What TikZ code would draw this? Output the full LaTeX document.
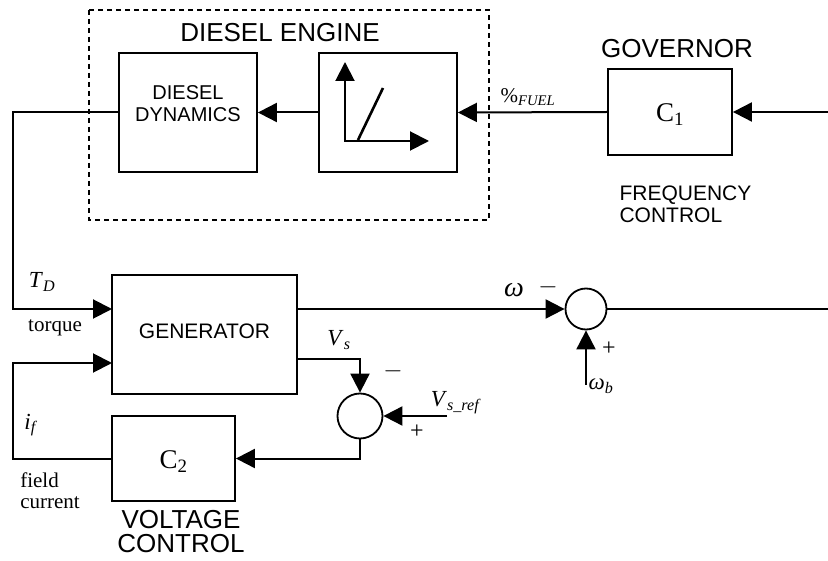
\documentclass[tikz,border=0pt]{standalone}
\usepackage{amsmath}
\usepackage{fontspec}
\setmainfont{Liberation Serif}
\setsansfont{Liberation Sans}
\usetikzlibrary{arrows.meta,positioning,calc}

\newcommand{\fsz}[1]{\fontsize{#1}{#1}\selectfont}
\newcommand{\sigsub}[2]{\textit{#1}\textsubscript{\textit{#2}}}

\begin{document}
\begin{tikzpicture}[x=1pt,y=-1pt,
    block/.style={draw, line width=1.8pt, minimum width=138pt, minimum height=119pt, inner sep=0pt},
    sumnode/.style={draw, circle, line width=1.8pt, inner sep=0pt},
    wire/.style={line width=2pt},
    sig/.style={wire, -{Triangle[length=19pt,width=19pt]}},
    capt/.style={font=\sffamily\fsz{26}, align=center},
    inlbl/.style={font=\sffamily\fsz{20}, align=center},
    lbl/.style={font=\fsz{21}, align=left},
    sym/.style={font=\fsz{23}},
    signlbl/.style={font=\fsz{24}}
]
    \useasboundingbox (0,0) rectangle (828,561);

    % Diesel engine
    \draw[line width=1.4pt, dash pattern=on 5pt off 4pt] (89,10) rectangle (489,220);
    \node[capt] (engtitle) at (280,33) {DIESEL ENGINE};
    \node[block] (dyn) at (188,112.5) {};
    \node[inlbl] (dyntext) at (188,104) {DIESEL\\[2pt]DYNAMICS};
    \node[block] (fuelmap) at (388,112.5) {};
    % fuel map curve
    \draw[sig] (345,142) -- (345,62);
    \draw[sig] (344,141) -- (429,141);
    \draw[line width=2.6pt] (358,140) -- (383,88);

    % Governor
    \node[block, minimum width=124pt, minimum height=86pt] (c1) at (670,112) {};
    \node[font=\fsz{27}] (c1text) at (670,115) {C\textsubscript{1}};
    \node[capt] (govtitle) at (677,49) {GOVERNOR};
    \node[font=\sffamily\fsz{21}, align=left, anchor=west] (freqtitle) at (616,204) {FREQUENCY\\[1pt]CONTROL};
    \coordinate (govin) at (828,112);
    \node[lbl] (fuellbl) at (528,97) {\%\textsubscript{\textit{FUEL}}};

    \draw[sig] (govin) -- (c1.east);
    \draw[sig] (c1.west) -- (fuelmap.east);
    \draw[sig] (fuelmap.west) -- (dyn.east);

    % Generator
    \node[block, minimum width=185pt] (gen) at (204.5,334.5) {};
    \node[font=\sffamily\fsz{21}] (gentext) at (204.5,331) {GENERATOR};
    \coordinate (tq) at (112,309);
    \coordinate (fc) at (112,363);
    \coordinate (wout) at (297,309);
    \coordinate (vout) at (297,359);
    \coordinate (tqbend) at (13,309);
    \coordinate (fcbend) at (13,363);

    \draw[sig] (dyn.west) -| (tqbend) -- (tq);
    \node[sym] (tdlbl) at (42,282) {\sigsub{T}{D}};
    \node[lbl] (tqlbl) at (55,328) {torque};

    % Frequency loop
    \node[sumnode, minimum size=41pt] (sum1) at (586,309) {};
    \coordinate (wref) at (586,385);
    \coordinate (wend) at (828,309);
    \draw[sig] (wout) -- (sum1.west);
    \draw[wire] (sum1.east) -- (wend);
    \draw[sig] (wref) -- (sum1.south);
    \node[font=\fsz{28}] (wlbl) at (514,290) {\textit{ω}};
    \node[sym] (wminus) at (548,287) {$-$};
    \node[sym] (wblbl) at (601,386) {\sigsub{ω}{b}};
    \node[signlbl] (wplus) at (609,349) {+};

    % Voltage loop
    \node[sumnode, minimum size=45pt] (sum2) at (360,416) {};
    \coordinate (vsref) at (447,416);
    \draw[sig] (vout) -| (sum2.north);
    \draw[sig] (vsref) -- (sum2.east);
    \node[sym] (vslbl) at (339,340) {\sigsub{V}{s}};
    \node[sym] (vsminus) at (393,371) {$-$};
    \node[sym] (vsreflbl) at (456,403) {\sigsub{V}{s\_ref}};
    \node[signlbl] (vsplus) at (417,432) {+};

    \node[block, minimum width=123pt, minimum height=85pt] (c2) at (173.5,458.5) {};
    \node[font=\fsz{27}] (c2text) at (173.5,462) {C\textsubscript{2}};
    \node[capt] (volttitle) at (181,532) {VOLTAGE\\[-2pt]CONTROL};

    \draw[sig] (sum2.south) |- (c2.east);
    \draw[sig] (c2.west) -| (fcbend) -- (fc);
    \node[sym] (iflbl) at (31,425) {\sigsub{i}{f}};
    \node[lbl] (fclbl) at (50,491) {field\\[0pt]current};
\end{tikzpicture}
\end{document}
